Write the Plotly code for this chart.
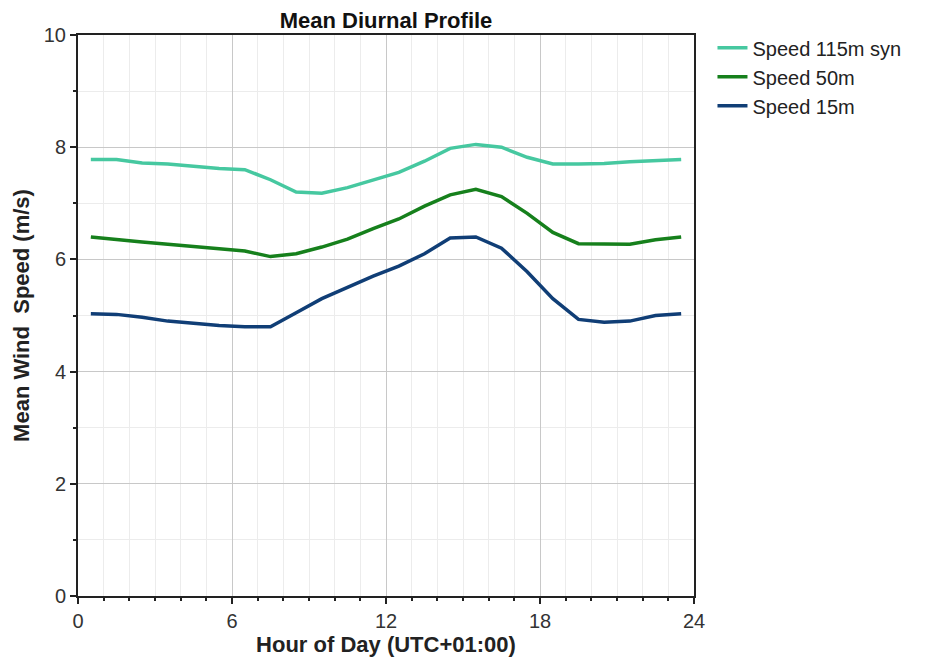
import plotly.graph_objects as go

hours = [h + 0.5 for h in range(24)]
speed_115_syn = [7.78, 7.78, 7.72, 7.70, 7.66, 7.62, 7.60, 7.42, 7.20, 7.18, 7.28, 7.42,
                 7.55, 7.75, 7.98, 8.05, 8.00, 7.82, 7.70, 7.70, 7.71, 7.74, 7.76, 7.78]
speed_50 = [6.40, 6.35, 6.31, 6.27, 6.23, 6.19, 6.15, 6.05, 6.10, 6.22, 6.36, 6.55,
            6.72, 6.95, 7.15, 7.25, 7.12, 6.82, 6.48, 6.28, 6.27, 6.27, 6.35, 6.40]
speed_15 = [5.03, 5.02, 4.97, 4.90, 4.86, 4.82, 4.80, 4.80, 5.05, 5.30, 5.50, 5.70,
            5.88, 6.10, 6.38, 6.40, 6.20, 5.78, 5.30, 4.93, 4.88, 4.90, 5.00, 5.03]

series = [
    ("Speed 115m syn", speed_115_syn, "rgb(70,200,160)"),
    ("Speed 50m", speed_50, "rgb(22,128,28)"),
    ("Speed 15m", speed_15, "rgb(16,62,118)"),
]

x_ticks = [0, 6, 12, 18, 24]
y_ticks = [0, 2, 4, 6, 8, 10]

fig = go.Figure()
for name, vals, col in series:
    fig.add_trace(go.Scatter(x=hours, y=vals, mode="lines", name=name,
                             line=dict(color=col, width=3.5)))

font_family = "Liberation Sans, Arial, sans-serif"
fig.update_layout(
    width=934, height=659,
    margin=dict(l=70, r=248, t=27, b=71),
    paper_bgcolor="white", plot_bgcolor="white",
    font=dict(family=font_family, color="#222"),
    title=dict(text="<b>Mean Diurnal Profile</b>", x=0.5, xref="paper", xanchor="center",
               y=0.982, yanchor="middle", font=dict(size=22, color="#111")),
    showlegend=True,
    legend=dict(x=1.03, y=1.012, xanchor="left", yanchor="top",
                font=dict(size=20, color="#222"),
                bgcolor="rgba(0,0,0,0)", tracegroupgap=0, itemwidth=30),
)
fig.update_xaxes(
    range=[0, 24], tickvals=x_ticks, ticktext=[str(v) for v in x_ticks],
    showgrid=True, gridcolor="#c8c8c8", gridwidth=1,
    minor=dict(dtick=1, showgrid=True, gridcolor="#ececec", ticks="outside", ticklen=3, tickcolor="#222"),
    ticks="outside", ticklen=6, tickcolor="#222", tickwidth=1.5,
    showline=True, linecolor="#222", linewidth=2, mirror=True,
    zeroline=False, tickfont=dict(size=20, color="#333"), automargin=False,
    title=dict(text="<b>Hour of Day (UTC+01:00)</b>", font=dict(size=22, color="#222"), standoff=4),
)
fig.update_yaxes(
    range=[0, 10], tickvals=y_ticks, ticktext=[str(v) for v in y_ticks],
    showgrid=True, gridcolor="#c8c8c8", gridwidth=1,
    minor=dict(dtick=1, showgrid=True, gridcolor="#ececec", ticks="outside", ticklen=3, tickcolor="#222"),
    ticks="outside", ticklen=6, tickcolor="#222", tickwidth=1.5,
    showline=True, linecolor="#222", linewidth=2, mirror=True,
    zeroline=False, tickfont=dict(size=20, color="#333"), automargin=False,
    title=dict(text="<b>Mean Wind  Speed (m/s)</b>", font=dict(size=22, color="#222"), standoff=8),
)

fig.write_html("out.html")
